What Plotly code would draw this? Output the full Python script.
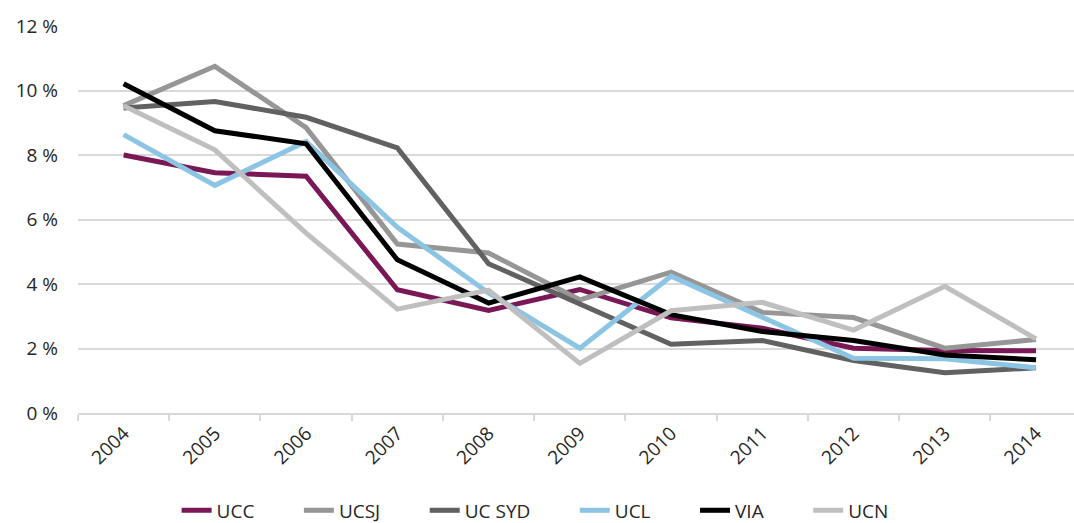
import plotly.graph_objects as go

years = ["2004", "2005", "2006", "2007", "2008", "2009", "2010", "2011", "2012", "2013", "2014"]

ucc = [8.0, 7.45, 7.34, 3.82, 3.18, 3.83, 2.95, 2.63, 2.01, 1.94, 1.93]
ucsj = [9.53, 10.75, 8.85, 5.24, 4.96, 3.51, 4.37, 3.12, 2.96, 2.01, 2.28]
uc_syd = [9.46, 9.66, 9.17, 8.22, 4.63, 3.36, 2.13, 2.25, 1.63, 1.25, 1.40]
ucl = [8.63, 7.06, 8.42, 5.76, 3.72, 2.01, 4.24, 2.95, 1.70, 1.68, 1.40]
via = [10.21, 8.75, 8.35, 4.75, 3.41, 4.22, 3.05, 2.53, 2.25, 1.80, 1.65]
ucn = [9.53, 8.16, 5.58, 3.22, 3.81, 1.54, 3.17, 3.43, 2.57, 3.93, 2.30]

series = [
    ("UCC", ucc, "#7a1755"),
    ("UCSJ", ucsj, "#969696"),
    ("UC SYD", uc_syd, "#616161"),
    ("UCL", ucl, "#8cc4e3"),
    ("VIA", via, "#000000"),
    ("UCN", ucn, "#bfbfbf"),
]

fig = go.Figure()
for name, vals, color in series:
    # trailing nbsp widen the gap between legend entries
    fig.add_trace(go.Scatter(x=years, y=vals, name=name + "\u00a0" * 8, mode="lines",
                             line=dict(color=color, width=5)))

fig.update_xaxes(type="category", range=[-0.5, 10.416], tickangle=-45, automargin=False,
                 showline=True, linecolor="#d9d9d9", linewidth=1.5,
                 ticks="outside", tickson="boundaries", ticklen=6, tickcolor="#d9d9d9",
                 tickwidth=1.5, showgrid=False)
fig.update_yaxes(range=[0, 12], dtick=2, ticksuffix=" %", gridcolor="#d9d9d9",
                 gridwidth=1.5, zeroline=False, ticklabelstandoff=19, automargin=False)

fig.update_layout(
    width=1074, height=523,
    margin=dict(l=78, r=0, t=26, b=110),
    plot_bgcolor="white", paper_bgcolor="white",
    font=dict(family="Open Sans", size=19, color="#262626"),
    legend=dict(orientation="h", x=0.099, xanchor="left", y=0.024, yanchor="middle",
                yref="container", font=dict(size=19)),
)
# drop the default page margin so the figure sits at the window corner
fig.write_html("out.html", config={"displayModeBar": False},
               post_script="document.body.style.margin='0';document.body.style.overflow='hidden';")
